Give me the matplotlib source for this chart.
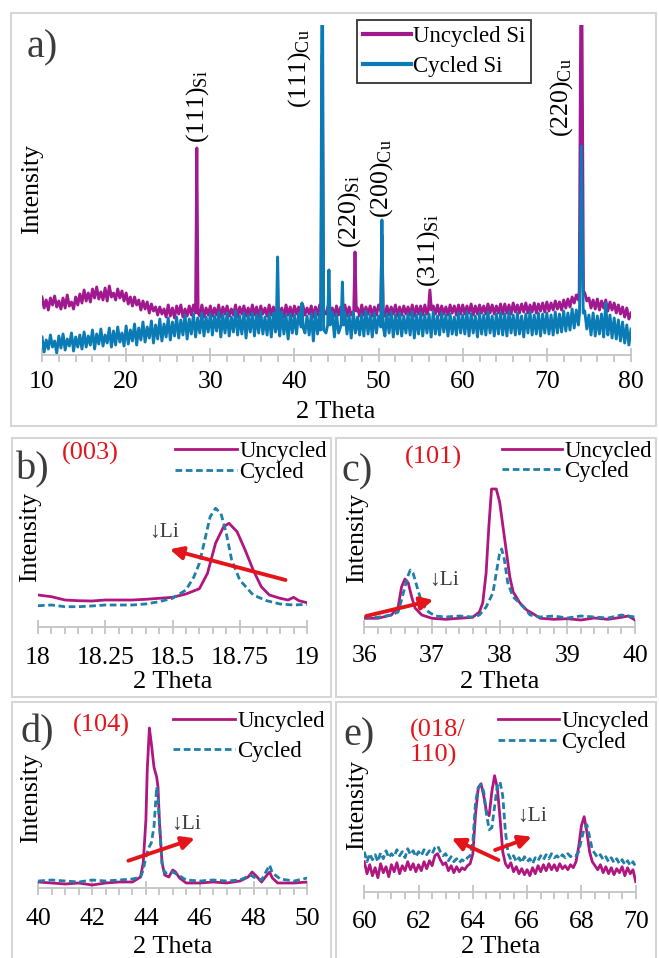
import numpy as np
import matplotlib
matplotlib.use("Agg")
import matplotlib.pyplot as plt
from matplotlib.patches import Rectangle
from matplotlib.ticker import MultipleLocator

plt.rcParams['font.family'] = ['Liberation Serif', 'DejaVu Serif']
plt.rcParams['mathtext.fontset'] = 'custom'
plt.rcParams['mathtext.rm'] = 'Liberation Serif'
plt.rcParams['mathtext.it'] = 'Liberation Serif:italic'
plt.rcParams['mathtext.bf'] = 'Liberation Serif:bold'

# ---------------- DATA ----------------
# Panel a: full scan, 10-80 deg in 0.25 deg steps (noisy background), plus sharp peaks
A_X = np.arange(10, 80.001, 0.25)
A_UNC = [58, 47, 55, 45, 57, 50, 59, 48, 54, 46, 57, 47, 60, 49, 53, 46, 58, 50, 61, 52,
         65, 54, 62, 53, 66, 57, 68, 56, 63, 55, 67, 54, 69, 58, 62, 55, 66, 57, 64, 54,
         62, 51, 58, 49, 58, 50, 55, 45, 54, 46, 53, 42, 51, 44, 48, 40, 48, 41, 46, 38,
         50, 39, 47, 37, 49, 41, 50, 38, 46, 39, 49, 40, 50, 42, 48, 39, 50, 38, 47, 40,
         49, 39, 47, 40, 50, 38, 48, 41, 49, 39, 46, 40, 50, 38, 48, 41, 49, 39, 47, 40,
         50, 40, 48, 38, 49, 41, 47, 39, 50, 40, 48, 39, 49, 41, 47, 38, 50, 40, 48, 39,
         49, 41, 48, 39, 50, 40, 47, 41, 49, 38, 48, 40, 50, 39, 48, 41, 49, 40, 47, 39,
         49, 40, 48, 41, 50, 39, 48, 40, 49, 41, 47, 39, 50, 40, 48, 41, 49, 39, 48, 40,
         50, 41, 48, 39, 49, 40, 48, 41, 50, 39, 48, 40, 49, 41, 48, 40, 50, 39, 49, 41,
         49, 40, 50, 41, 48, 40, 49, 41, 50, 40, 49, 41, 48, 40, 50, 42, 49, 40, 50, 41,
         50, 41, 49, 42, 51, 40, 49, 41, 50, 42, 49, 41, 51, 42, 50, 41, 49, 42, 51, 41,
         51, 42, 50, 41, 52, 43, 50, 42, 51, 43, 52, 42, 50, 43, 52, 42, 51, 44, 52, 43,
         53, 44, 52, 45, 54, 46, 53, 45, 55, 47, 56, 48, 58, 52, 60, 55, 63, 58, 62, 54,
         57, 47, 55, 46, 56, 45, 54, 47, 55, 44, 53, 45, 52, 42, 50, 41, 48, 38, 47, 36,
         42]
A_CYC = [18, 3, 15, 6, 20, 8, 14, 2, 19, 7, 21, 5, 16, 9, 22, 4, 18, 8, 20, 6,
         23, 8, 19, 10, 25, 6, 21, 11, 26, 9, 20, 12, 27, 8, 24, 10, 28, 13, 22, 9,
         29, 11, 25, 14, 31, 10, 27, 15, 33, 13, 28, 17, 34, 12, 30, 16, 36, 14, 31, 18,
         37, 15, 33, 19, 38, 17, 35, 20, 40, 16, 36, 21, 41, 18, 37, 22, 42, 19, 38, 23,
         41, 20, 39, 24, 43, 18, 40, 22, 42, 19, 38, 23, 44, 20, 39, 21, 42, 17, 40, 23,
         42, 19, 40, 22, 43, 21, 38, 20, 41, 18, 42, 23, 39, 19, 43, 21, 40, 16, 41, 22,
         40, 21, 42, 19, 44, 22, 39, 20, 41, 14, 43, 21, 40, 19, 42, 22, 39, 20, 43, 18,
         41, 22, 39, 19, 42, 21, 40, 17, 43, 22, 38, 20, 41, 19, 44, 21, 40, 18, 42, 22,
         39, 20, 42, 19, 41, 22, 43, 18, 40, 21, 42, 19, 39, 22, 41, 20, 43, 17, 40, 21,
         42, 19, 40, 22, 41, 18, 43, 21, 39, 20, 42, 23, 40, 19, 41, 21, 38, 20, 42, 22,
         40, 21, 43, 19, 41, 22, 39, 18, 42, 21, 40, 20, 43, 22, 39, 19, 41, 21, 42, 20,
         41, 19, 43, 22, 40, 20, 42, 21, 39, 18, 41, 22, 43, 20, 40, 21, 42, 19, 41, 22,
         42, 21, 40, 20, 43, 22, 41, 23, 44, 24, 42, 25, 46, 27, 45, 30, 48, 32, 44, 26,
         40, 20, 42, 19, 39, 21, 41, 18, 38, 20, 40, 17, 37, 16, 35, 14, 33, 12, 30, 10,
         26]
# peaks: (position, height, foot value, half width)
A_UNC_PEAKS = [(28.4, 207, 42, 0.15), (43.3, 300, 44, 0.15), (47.2, 103, 44, 0.15),
               (50.4, 120, 44, 0.15), (56.1, 65, 45, 0.18), (74.1, 450, 64, 0.25)]
A_CYC_PEAKS = [(38.0, 98, 28, 0.15), (40.9, 52, 28, 0.12), (43.3, 450, 25, 0.18),
               (44.1, 85, 30, 0.15), (45.7, 73, 30, 0.15), (50.4, 135, 28, 0.15),
               (74.1, 209, 42, 0.22), (77.0, 52, 30, 0.15)]
A_TICKS = [10, 20, 30, 40, 50, 60, 70, 80]
A_TICKLABELS = ['10', '20', '30', '40', '50', '60', '70', '80']
A_PEAK_LABELS = [(28.48, 212, '(111)', 'Si'), (40.66, 247, '(111)', 'Cu'),
                 (46.6, 107, '(220)', 'Si'), (50.4, 137, '(200)', 'Cu'),
                 (55.9, 68, '(311)', 'Si'), (71.8, 218, '(220)', 'Cu')]

# Panel b: (003)
B_UNC_X = [18.0, 18.05, 18.1, 18.15, 18.2, 18.25, 18.3, 18.35, 18.4, 18.45, 18.5, 18.55, 18.6,
           18.63, 18.66, 18.69, 18.71, 18.74, 18.77, 18.8, 18.83, 18.86, 18.9, 18.93, 18.95, 18.97, 19.0]
B_UNC_Y = [32, 30.3, 27, 26.3, 26, 27, 27, 27, 27.7, 28.7, 29.7, 33, 38.3,
           53.7, 83.7, 100.3, 103.7, 95.3, 77, 57, 40.3, 32, 28.7, 27, 29.7, 26.3, 24.3]
B_CYC_X = [18.0, 18.05, 18.1, 18.15, 18.2, 18.25, 18.3, 18.35, 18.4, 18.45, 18.5, 18.55, 18.58,
           18.6, 18.62, 18.64, 18.66, 18.68, 18.7, 18.72, 18.75, 18.8, 18.85, 18.9, 18.95, 19.0]
B_CYC_Y = [21.3, 22, 20.3, 20.3, 21, 22, 22, 22, 23, 25.3, 28.7, 37, 50.3,
           63.7, 87, 110.3, 118.7, 113.7, 93.7, 67, 47, 32, 26.3, 23, 22, 22.7]
B_TICKS = [18, 18.25, 18.5, 18.75, 19]
B_TICKLABELS = ['18', '18.25', '18.5', '18.75', '19']

# Panel c: (101)
C_UNC_X = [36.0, 36.2, 36.4, 36.5, 36.55, 36.6, 36.65, 36.7, 36.75, 36.85,
           37.0, 37.2, 37.4, 37.6, 37.7, 37.75, 37.8, 37.84, 37.88, 37.95,
           38.0, 38.05, 38.1, 38.15, 38.2, 38.3, 38.4, 38.5, 38.6, 38.8,
           39.0, 39.2, 39.4, 39.6, 39.8, 39.9, 40.0]
C_UNC_Y = [8.7, 8.7, 12, 20, 40, 48, 44, 30, 19, 12,
           8.7, 7.7, 8.7, 9.7, 15, 24, 54, 100, 138, 138,
           125, 100, 75, 50, 35, 24, 17, 13, 8.7, 7.7,
           8.3, 7, 9, 7.7, 9.7, 11, 7]
C_CYC_X = [36.0, 36.2, 36.4, 36.5, 36.55, 36.6, 36.65, 36.68, 36.72, 36.78,
           36.85, 36.95, 37.05, 37.2, 37.4, 37.6, 37.7, 37.8, 37.9, 37.95,
           38.0, 38.03, 38.07, 38.12, 38.2, 38.28, 38.35, 38.45, 38.6, 38.8,
           39.0, 39.2, 39.4, 39.6, 39.8, 40.0]
C_CYC_Y = [10, 9.7, 12, 15, 27, 40, 52, 57, 54, 40,
           24, 15, 11, 10, 11, 10, 12, 20, 34, 54,
           74, 78, 67, 44, 30, 25, 20, 12, 10, 11,
           9, 11, 10, 9, 12, 10]
C_TICKS = [36, 37, 38, 39, 40]
C_TICKLABELS = ['36', '37', '38', '39', '40']

# Panel d: (104)
D_UNC_X = [40, 40.5, 41, 41.5, 42, 42.5, 43, 43.5, 43.8, 43.9, 44.0, 44.05, 44.13, 44.2, 44.3,
           44.4, 44.45, 44.5, 44.6, 44.7, 44.85, 45.0, 45.1, 45.25, 45.5, 46, 46.5, 47, 47.5,
           47.8, 47.95, 48.1, 48.3, 48.5, 48.6, 48.7, 48.9, 49.5, 50]
D_UNC_Y = [6, 5, 4, 5, 3, 5, 6, 6, 11, 25, 68, 118, 160, 145, 121,
           111, 101, 68, 25, 13, 11, 18, 16, 10, 5, 5, 6, 5, 7,
           11, 16, 12, 6, 13, 16, 10, 5, 5, 6]
D_CYC_X = [40, 40.5, 41, 41.5, 42, 42.5, 43, 43.5, 43.8, 43.9, 44.0, 44.1, 44.2, 44.3, 44.4,
           44.45, 44.5, 44.6, 44.7, 45.0, 45.2, 45.5, 46, 46.5, 47, 47.5, 47.9, 48.0, 48.3,
           48.5, 48.6, 48.7, 49, 49.5, 50]
D_CYC_Y = [7, 8, 7, 6, 8, 7, 8, 9, 11, 18, 31, 40, 45, 61, 101,
           91, 65, 25, 15, 16, 13, 8, 7, 8, 7, 8, 13, 11, 8,
           18, 23, 15, 9, 7, 10]
D_TICKS = [40, 42, 44, 46, 48, 50]
D_TICKLABELS = ['40', '42', '44', '46', '48', '50']

# Panel e: (018/110), 60-70 deg in 0.1 deg steps
E_X = np.arange(60, 70.001, 0.1)
E_UNC = [30, 18, 27, 16, 24, 14, 28, 19, 25, 15,
         27, 20, 29, 18, 26, 21, 30, 22, 28, 20,
         27, 21, 30, 23, 31, 26, 36, 38, 32, 27,
         29, 21, 26, 19, 25, 20, 24, 22, 26, 28,
         38, 78, 104, 108, 96, 80, 76, 100, 116, 104,
         74, 40, 28, 24, 29, 20, 25, 18, 23, 17,
         22, 16, 24, 18, 26, 20, 27, 21, 28, 22,
         27, 21, 28, 23, 26, 22, 27, 24, 30, 45,
         66, 75, 60, 40, 30, 26, 22, 27, 19, 25,
         18, 24, 17, 23, 19, 25, 16, 24, 18, 22,
         10]
E_CYC = [40, 30, 38, 32, 37, 30, 39, 33, 41, 34,
         38, 35, 42, 36, 40, 34, 43, 37, 41, 35,
         40, 36, 42, 37, 41, 38, 44, 46, 40, 36,
         38, 31, 35, 30, 33, 29, 32, 30, 34, 36,
         50, 90, 104, 107, 100, 78, 62, 64, 85, 106,
         110, 96, 60, 38, 32, 36, 30, 34, 29, 35,
         30, 33, 28, 34, 31, 36, 32, 37, 33, 38,
         34, 36, 33, 37, 34, 38, 35, 37, 36, 40,
         52, 63, 67, 55, 42, 38, 34, 37, 32, 35,
         30, 34, 29, 33, 28, 32, 27, 31, 26, 30,
         25]
E_TICKS = [60, 62, 64, 66, 68, 70]
E_TICKLABELS = ['60', '62', '64', '66', '68', '70']

# red "Li" arrows: (tail x, tail y, head x, head y)
B_ARROWS = [(18.92, 47, 18.49, 77.7)]
C_ARROWS = [(36.03, 11, 37.02, 27)]
D_ARROWS = [(43.35, 27.3, 45.82, 49.7)]
E_ARROWS = [(64.94, 31.7, 63.22, 53.4), (64.82, 41.7, 66.17, 55)]

# ---------------- STYLE ----------------
W, H = 659, 958
fig = plt.figure(figsize=(W / 100, H / 100), dpi=100)

A_UNC_C = '#a0198f'
A_CYC_C = '#0a7bb5'
S_UNC_C = '#b0167f'
S_CYC_C = '#1f7fa6'
RED = '#e3151b'
GRID = '#c4c4c4'
DARK = '#3c3c3c'
TICKSIZE = 18.5
LABELSIZE = 19


def fx(px):
    return px / W


def fy(py):
    return 1 - py / H


def make_axes(l, r, t, b):
    return fig.add_axes([fx(l), fy(b), (r - l) / W, (b - t) / H])


def style_axes(ax, xlim, ylim, ticks, labels, minor, pad):
    ax.set_xlim(*xlim)
    ax.set_ylim(*ylim)
    for s in ['left', 'right', 'top']:
        ax.spines[s].set_visible(False)
    ax.spines['bottom'].set_color(GRID)
    ax.spines['bottom'].set_linewidth(1.3)
    ax.set_yticks([])
    ax.set_xticks(ticks)
    ax.set_xticklabels(labels)
    ax.xaxis.set_minor_locator(MultipleLocator(minor))
    ax.tick_params(axis='x', which='major', direction='inout', length=9.5, width=1.3,
                   color=GRID, labelsize=TICKSIZE, pad=pad)
    ax.tick_params(axis='x', which='minor', direction='out', length=5, width=1.3, color=GRID)
    ax.patch.set_alpha(0)


def with_peaks(x, y, peaks):
    x = np.asarray(x, float)
    y = np.asarray(y, float)
    keep = np.ones(len(x), bool)
    for p, h, f, hw in peaks:
        keep &= np.abs(x - p) > hw + 0.08
    xs = list(x[keep])
    ys = list(y[keep])
    for p, h, f, hw in peaks:
        xs += [p - hw, p, p + hw]
        ys += [f, h, f]
    order = np.argsort(xs)
    return np.array(xs)[order], np.array(ys)[order]


def ftext(x, y, s, **kw):
    fig.text(fx(x), fy(y), s, **kw)


def red_arrows(ax, arrows):
    for x0, y0, x1, y1 in arrows:
        ax.annotate('', xy=(x1, y1), xytext=(x0, y0),
                    arrowprops=dict(arrowstyle='-|>', color=RED, lw=2.8,
                                    mutation_scale=19, shrinkA=0, shrinkB=0))


def small_legend(ax, x0, ytop, hl, spacing):
    ax.legend(loc='upper left', bbox_to_anchor=(fx(x0), fy(ytop)), bbox_transform=fig.transFigure,
              frameon=False, borderpad=0, borderaxespad=0, handlelength=hl, handletextpad=0.12,
              labelspacing=spacing, fontsize=16.5)


# panel frames
for (x0, y0, x1, y1) in [(11, 13, 656, 426), (12, 438, 331, 697), (336, 438, 656, 697),
                         (12, 702, 331, 962), (336, 702, 656, 962)]:
    fig.add_artist(Rectangle((fx(x0), fy(y1)), (x1 - x0) / W, (y1 - y0) / H,
                             transform=fig.transFigure, fill=False, edgecolor='#d6d6d6', lw=1.5))

# ---------------- Panel a ----------------
axa = make_axes(42, 631, 25, 355)
xu, yu = with_peaks(A_X, A_UNC, A_UNC_PEAKS)
xc, yc = with_peaks(A_X, A_CYC, A_CYC_PEAKS)
axa.plot(xu, yu, color=A_UNC_C, lw=2.1, label='Uncycled Si')
axa.plot(xc, yc, color=A_CYC_C, lw=2.1, label='Cycled Si')
style_axes(axa, (10, 80), (0, 330), A_TICKS, A_TICKLABELS, 2, 7)
for xp, yp, main, sub in A_PEAK_LABELS:
    axa.text(xp, yp, main + r'$_{\mathrm{' + sub + '}}$', rotation=90, ha='center', va='bottom',
             fontsize=18.5)
leg = axa.legend(loc='upper left', bbox_to_anchor=(fx(357), fy(20)), bbox_transform=fig.transFigure,
                 frameon=True, fancybox=False, edgecolor='black', borderpad=0.25, borderaxespad=0,
                 handlelength=2.1, handletextpad=0.1, labelspacing=0.4, fontsize=16.5)
leg.get_frame().set_linewidth(1.3)
for line in leg.get_lines():
    line.set_linewidth(3.0)
ftext(42, 48, 'a)', fontsize=29, color=DARK, ha='center', va='center')
ftext(32, 189, 'Intensity', fontsize=18.5, rotation=90, ha='center', va='center')
ftext(336, 418, '2 Theta', fontsize=LABELSIZE, ha='center', va='baseline')

# ---------------- Panel b ----------------
axb = make_axes(38, 307, 470, 627)
axb.plot(B_UNC_X, B_UNC_Y, color=S_UNC_C, lw=2.0, label='Uncycled')
axb.plot(B_CYC_X, B_CYC_Y, color=S_CYC_C, lw=2.0, dashes=[2.4, 1.3], label='Cycled')
style_axes(axb, (18, 19), (0, 157), B_TICKS, B_TICKLABELS, 0.05, 10)
red_arrows(axb, B_ARROWS)
axb.text(18.47, 95, '↓Li', fontsize=15.5, color=DARK, ha='center', va='center')
small_legend(axb, 175, 441, 2.7, 0.0)
ftext(33, 470, 'b)', fontsize=29, color=DARK, ha='center', va='center')
ftext(90, 453, '(003)', fontsize=19, color=RED, ha='center', va='center')
ftext(30, 537, 'Intensity', fontsize=18.5, rotation=90, ha='center', va='center')
ftext(173, 688, '2 Theta', fontsize=LABELSIZE, ha='center', va='baseline')

# ---------------- Panel c ----------------
axc = make_axes(364.3, 635, 470, 627)
axc.plot(C_UNC_X, C_UNC_Y, color=S_UNC_C, lw=2.0, label='Uncycled')
axc.plot(C_CYC_X, C_CYC_Y, color=S_CYC_C, lw=2.0, dashes=[2.4, 1.3], label='Cycled')
style_axes(axc, (36, 40), (0, 157), C_TICKS, C_TICKLABELS, 0.2, 8.5)
red_arrows(axc, C_ARROWS)
axc.text(37.18, 47, '↓Li', fontsize=15.5, color=DARK, ha='center', va='center')
small_legend(axc, 502, 441, 2.6, -0.05)
ftext(357, 472, 'c)', fontsize=29, color=DARK, ha='center', va='center')
ftext(433, 457, '(101)', fontsize=19, color=RED, ha='center', va='center')
ftext(357, 538, 'Intensity', fontsize=18.5, rotation=90, ha='center', va='center')
ftext(500, 688, '2 Theta', fontsize=LABELSIZE, ha='center', va='baseline')

# ---------------- Panel d ----------------
axd = make_axes(38.3, 307.3, 720, 888)
axd.plot(D_UNC_X, D_UNC_Y, color=S_UNC_C, lw=2.0, label='Uncycled')
axd.plot(D_CYC_X, D_CYC_Y, color=S_CYC_C, lw=2.0, dashes=[2.4, 1.3], label='Cycled')
style_axes(axd, (40, 50), (0, 168), D_TICKS, D_TICKLABELS, 0.5, 9.5)
red_arrows(axd, D_ARROWS)
axd.text(45.5, 63, '↓Li', fontsize=15.5, color=DARK, ha='center', va='center')
small_legend(axd, 173, 711, 2.7, 0.4)
ftext(37, 733, 'd)', fontsize=29, color=DARK, ha='center', va='center')
ftext(101, 725, '(104)', fontsize=19, color=RED, ha='center', va='center')
ftext(31, 798, 'Intensity', fontsize=18.5, rotation=90, ha='center', va='center')
ftext(173, 953, '2 Theta', fontsize=LABELSIZE, ha='center', va='baseline')

# ---------------- Panel e ----------------
axe = make_axes(364.3, 635.7, 720, 891.7)
axe.plot(E_X, E_UNC, color=S_UNC_C, lw=2.0, label='Uncycled')
axe.plot(E_X, E_CYC, color=S_CYC_C, lw=2.0, dashes=[2.4, 1.3], label='Cycled')
style_axes(axe, (60, 70), (0, 171.7), E_TICKS, E_TICKLABELS, 0.5, 9)
red_arrows(axe, E_ARROWS)
axe.text(66.2, 75, '↓Li', fontsize=15.5, color=DARK, ha='center', va='center')
small_legend(axe, 498, 711, 2.65, 0.0)
ftext(359, 736, 'e)', fontsize=29, color=DARK, ha='center', va='center')
ftext(410, 730, '(018/', fontsize=19, color=RED, ha='left', va='center')
ftext(410, 755, '110)', fontsize=19, color=RED, ha='left', va='center')
ftext(357, 805, 'Intensity', fontsize=18.5, rotation=90, ha='center', va='center')
ftext(501, 953, '2 Theta', fontsize=LABELSIZE, ha='center', va='baseline')

fig.savefig('out.png', dpi=100)
